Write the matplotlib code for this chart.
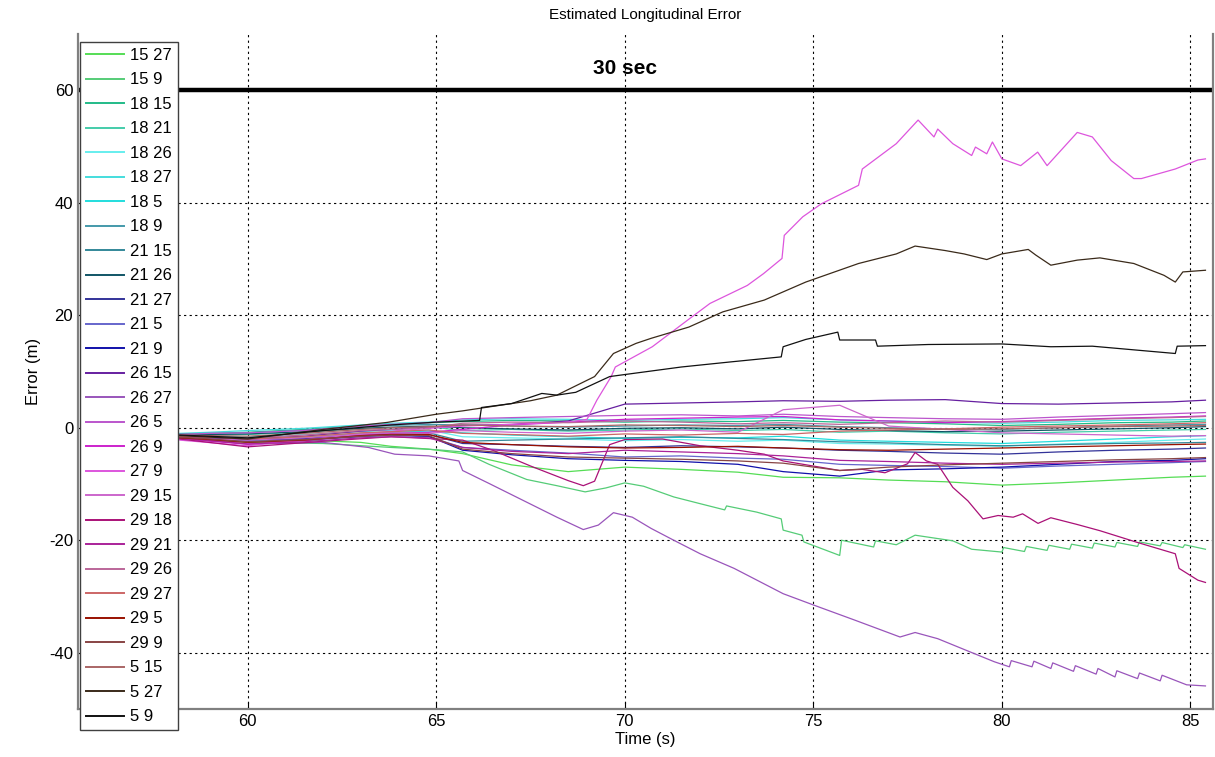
import matplotlib
matplotlib.use("Agg")
import matplotlib.pyplot as plt

plt.rcParams['font.family'] = ['Liberation Sans', 'DejaVu Sans']
plt.rcParams['axes.unicode_minus'] = False

# legend labels (draw order) and line colours
labels = ['15 27', '15 9', '18 15', '18 21', '18 26', '18 27', '18 5', '18 9',
          '21 15', '21 26', '21 27', '21 5', '21 9', '26 15', '26 27', '26 5',
          '26 9', '27 9', '29 15', '29 18', '29 21', '29 26', '29 27', '29 5',
          '29 9', '5 15', '5 27', '5 9']
colors = ['#55dd55', '#55cc77', '#22bb88', '#44ccaa', '#66eeee', '#44dddd', '#22dddd', '#4499aa',
          '#338899', '#115566', '#333399', '#6666cc', '#1111aa', '#661fa0', '#9955bb', '#bb55cc',
          '#cc22cc', '#dd55dd', '#cc66cc', '#aa1177', '#aa2299', '#bb6699', '#cc6666', '#991100',
          '#884444', '#aa6666', '#3a2a1a', '#111111']

# shared time knots (s) for the lines inside the central bundle
t_band = [58.2, 59.0, 60.0, 61.5, 63.0, 63.8, 64.8, 65.7, 67.0, 68.5, 70.0,
          71.5, 73.0, 74.2, 75.7, 77.0, 78.5, 80.0, 81.5, 83.0, 84.5, 85.4]

e_15_27 = [-1.6, -1.8, -2.0, -2.2, -2.6, -3.3, -3.8, -4.6, -6.6, -7.8, -7.0,
           -7.4, -7.9, -8.8, -8.9, -9.3, -9.6, -10.2, -9.8, -9.3, -8.8, -8.6]
e_18_15 = [-1.2, -1.0, -0.8, -0.3, 0.4, 0.6, 0.9, 1.1, 1.3, 1.2, 1.0,
           1.2, 1.1, 1.3, 1.0, 0.9, 0.7, 0.4, 0.6, 0.9, 1.0, 1.2]
e_18_21 = [-1.5, -1.3, -1.2, -0.8, -0.2, 0.0, 0.2, -0.5, -0.3, -0.6, -0.4,
           -0.2, -0.5, -0.3, -0.8, -0.6, -0.9, -1.1, -0.8, -0.6, -0.4, -0.3]
e_18_26 = [-1.4, -1.5, -1.6, -1.2, -0.7, -0.5, -0.4, -1.6, -1.8, -2.0, -2.3,
           -2.1, -2.4, -2.2, -2.8, -2.9, -3.1, -3.3, -2.9, -2.6, -2.2, -2.0]
e_18_27 = [-1.0, -0.8, -0.5, -0.1, 0.5, 0.8, 1.0, 1.4, 1.6, 1.5, 1.3,
           1.5, 1.6, 1.8, 1.4, 1.2, 1.0, 0.8, 1.0, 1.3, 1.4, 1.5]
e_18_5 = [-1.6, -1.7, -1.9, -1.6, -1.0, -0.8, -0.6, -0.9, -1.3, -1.6, -1.9,
          -1.7, -1.8, -1.5, -2.2, -2.4, -2.6, -2.8, -2.4, -2.0, -1.6, -1.4]
e_18_9 = [-1.1, -1.0, -0.9, -0.4, 0.2, 0.4, 0.6, 0.5, 0.3, 0.1, 0.3,
          0.5, 0.4, 0.6, 0.2, 0.0, -0.2, -0.3, 0.0, 0.3, 0.5, 0.6]
e_21_15 = [-1.8, -2.0, -2.3, -1.9, -1.2, -1.0, -0.9, -2.4, -2.2, -2.0, -1.8,
           -1.6, -1.9, -2.1, -2.5, -2.7, -3.0, -3.2, -3.0, -2.8, -2.7, -2.6]
e_21_26 = [-1.3, -1.2, -1.1, -0.7, -0.1, 0.1, 0.3, 0.0, -0.2, -0.4, -0.1,
           0.0, -0.2, 0.1, -0.3, -0.5, -0.7, -0.6, -0.4, -0.2, 0.0, 0.2]
e_21_27 = [-1.9, -2.1, -2.5, -2.2, -1.6, -1.3, -1.2, -2.8, -3.0, -3.3, -3.5,
           -3.2, -3.4, -3.6, -4.0, -4.2, -4.5, -4.7, -4.3, -4.0, -3.8, -3.6]
e_21_5 = [-1.7, -1.9, -2.2, -2.0, -1.5, -1.4, -1.6, -3.5, -4.0, -4.5, -5.2,
          -5.0, -5.4, -5.6, -6.5, -6.7, -6.9, -7.2, -6.8, -6.5, -6.2, -6.0]
e_21_9 = [-1.6, -1.8, -2.1, -1.9, -1.4, -1.2, -1.5, -4.0, -4.8, -5.5, -5.8,
          -6.0, -6.5, -7.8, -8.6, -7.5, -7.3, -7.0, -6.5, -6.0, -5.8, -5.5]
e_26_15 = [-1.5, -1.7, -2.0, -1.5, -0.6, -0.3, 0.1, 0.4, 0.6, 1.2, 4.2,
           4.4, 4.6, 4.8, 4.7, 4.9, 5.0, 4.3, 4.2, 4.4, 4.6, 4.9]
e_26_5 = [-1.2, -1.0, -0.9, -0.5, 0.3, 0.6, 0.9, 1.6, 1.8, 2.0, 2.2,
          2.3, 2.1, 2.4, 2.0, 1.8, 1.6, 1.5, 1.9, 2.2, 2.5, 2.7]
e_26_9 = [-2.0, -2.4, -2.9, -2.3, -1.3, -1.0, -0.8, -0.3, 0.5, 1.0, 1.5,
          1.7, 1.9, 2.0, 1.4, 1.2, 0.9, 1.1, 1.4, 1.7, 1.9, 2.1]
e_29_15 = [-1.8, -2.0, -2.2, -1.8, -1.1, -0.9, -1.0, -0.5, -0.8, -1.0, -0.6,
           -0.4, -0.8, 3.2, 4.0, 0.3, -0.3, -0.9, -1.1, -1.3, -1.5, -1.4]
e_29_21 = [-1.9, -2.3, -2.9, -2.5, -1.8, -1.6, -1.8, -3.5, -4.2, -4.6, -4.0,
           -4.3, -4.6, -5.0, -5.8, -6.0, -6.3, -6.5, -6.3, -6.1, -6.0, -5.9]
e_29_26 = [-1.5, -1.6, -1.8, -1.3, -0.5, -0.3, 0.0, 0.8, 1.0, 0.9, 1.2,
           1.0, 0.7, 0.9, 0.6, 0.9, 1.2, 1.0, 1.3, 1.6, 1.8, 2.0]
e_29_27 = [-1.6, -1.7, -2.0, -1.6, -0.9, -0.7, -0.4, -1.0, -1.2, -1.5, -1.1,
           -1.3, -1.0, -1.2, -0.6, -0.4, -0.2, 0.1, 0.3, 0.5, 0.7, 0.9]
e_29_5 = [-1.8, -2.1, -2.6, -2.2, -1.4, -1.2, -1.2, -2.6, -3.0, -3.4, -3.6,
          -3.5, -3.3, -3.6, -3.9, -4.0, -3.8, -3.6, -3.4, -3.2, -3.0, -2.9]
e_29_9 = [-1.7, -2.0, -2.5, -2.1, -1.5, -1.3, -1.4, -3.8, -4.6, -5.2, -5.4,
          -5.6, -5.9, -6.3, -7.6, -7.0, -6.6, -6.3, -6.0, -5.7, -5.5, -5.3]
e_5_15 = [-1.3, -1.4, -1.5, -1.0, -0.3, 0.0, 0.2, 0.5, 0.3, 0.2, 0.5,
          0.4, 0.2, 0.4, 0.1, -0.1, -0.3, -0.2, 0.0, 0.2, 0.3, 0.4]

# lines that leave the bundle, each with its own time knots
t_15_9 = [58.2, 60.0, 62.0, 63.8, 65.0, 65.7, 66.4, 67.4, 68.2, 68.95, 69.5, 70.0,
          70.5, 71.3, 72.0, 72.65, 72.7, 73.5, 74.15, 74.2, 74.7, 74.75, 75.7, 75.75,
          76.6, 76.65, 77.2, 77.7, 78.7, 79.2, 80.0, 80.05, 80.6, 80.65, 81.2, 81.25,
          81.8, 81.85, 82.4, 82.45, 83.0, 83.05, 83.6, 83.65, 84.2, 84.25, 84.8, 84.85, 85.4]
e_15_9 = [-1.9, -2.6, -2.8, -3.5, -3.9, -4.3, -6.5, -9.2, -10.3, -11.4, -10.7, -9.8,
          -10.4, -12.3, -13.5, -14.6, -13.9, -15.0, -16.2, -18.2, -19.1, -20.3, -22.7, -20.0,
          -21.2, -20.1, -20.8, -19.1, -20.1, -21.6, -22.1, -21.3, -22.0, -21.1, -21.8, -20.9,
          -21.6, -20.7, -21.4, -20.5, -21.2, -20.4, -21.1, -20.3, -21.0, -20.4, -21.3, -20.8, -21.6]

t_26_27 = [58.2, 60.0, 62.0, 63.2, 63.9, 64.8, 65.6, 65.7, 66.4, 67.3, 68.2, 68.9,
           69.3, 69.7, 70.2, 70.7, 71.3, 72.0, 72.9, 74.2, 75.0, 76.1, 77.3, 77.7,
           78.3, 79.25, 79.8, 80.2, 80.25, 80.8, 80.85, 81.3, 81.35, 81.9, 81.95, 82.5,
           82.55, 83.0, 83.05, 83.6, 83.65, 84.2, 84.25, 84.9, 85.4]
e_26_27 = [-1.7, -2.9, -2.6, -3.5, -4.7, -5.0, -5.9, -7.6, -9.9, -12.9, -15.9, -18.1,
           -17.3, -15.1, -15.9, -17.9, -20.0, -22.4, -25.0, -29.5, -31.5, -34.2, -37.2, -36.4,
           -37.5, -40.1, -41.6, -42.5, -41.4, -42.5, -41.5, -42.8, -41.8, -43.3, -42.3, -43.8,
           -42.8, -44.3, -43.2, -44.6, -43.6, -45.0, -44.0, -45.7, -45.9]

t_27_9 = [58.2, 60.0, 62.0, 64.0, 65.7, 67.0, 68.5, 69.0, 69.26, 69.64, 69.75, 70.73,
          71.72, 72.26, 73.25, 73.68, 74.17, 74.23, 74.72, 75.21, 76.2, 76.3, 77.2, 77.78,
          78.2, 78.3, 78.7, 79.2, 79.3, 79.6, 79.75, 80.0, 80.5, 80.95, 81.2, 82.0,
          82.4, 82.9, 83.5, 83.7, 84.6, 85.2, 85.4]
e_27_9 = [-2.2, -3.2, -1.8, -0.5, 0.3, 0.6, 1.0, 1.5, 4.9, 9.1, 10.8, 14.4,
          19.4, 22.1, 25.3, 27.4, 30.1, 34.2, 37.5, 39.8, 43.1, 46.0, 50.5, 54.7,
          51.7, 53.1, 50.5, 48.4, 49.9, 48.7, 50.8, 47.8, 46.6, 49.0, 46.6, 52.5,
          51.7, 47.5, 44.3, 44.3, 46.0, 47.6, 47.8]

t_29_18 = [58.2, 60.0, 62.0, 63.8, 65.7, 66.5, 67.5, 68.5, 68.9, 69.2, 69.6, 70.0,
           71.0, 72.0, 73.0, 73.7, 74.2, 75.7, 76.3, 76.9, 77.5, 77.7, 78.0, 78.3,
           78.7, 79.1, 79.5, 79.9, 80.3, 80.55, 80.96, 81.3, 82.0, 82.6, 83.6, 84.6,
           84.7, 85.2, 85.4]
e_29_18 = [-2.0, -3.4, -2.4, -1.6, -2.2, -4.0, -6.8, -9.4, -10.3, -9.5, -3.0, -2.1,
           -2.0, -3.2, -4.0, -4.7, -5.9, -7.6, -7.4, -8.0, -6.4, -4.4, -5.9, -6.5,
           -10.6, -13.0, -16.2, -15.6, -15.9, -15.3, -17.0, -16.0, -17.2, -18.3, -20.4, -22.4,
           -25.0, -27.1, -27.5]

t_5_27 = [58.2, 60.0, 62.0, 63.7, 65.0, 65.7, 66.3, 67.5, 68.2, 69.2, 69.7, 70.3,
          70.7, 71.7, 72.6, 73.7, 74.8, 76.2, 77.2, 77.7, 78.5, 79.0, 79.6, 80.0,
          80.7, 80.9, 81.3, 82.0, 82.6, 83.5, 84.3, 84.6, 84.8, 85.4]
e_5_27 = [-1.4, -2.0, -0.3, 0.95, 2.4, 3.0, 3.6, 4.8, 5.8, 9.1, 13.2, 15.0,
          15.9, 17.9, 20.6, 22.7, 25.9, 29.2, 30.9, 32.3, 31.5, 30.9, 29.9, 30.9,
          31.7, 30.7, 28.9, 29.8, 30.2, 29.2, 27.1, 25.9, 27.7, 28.0]

t_5_9 = [58.2, 60.0, 62.0, 63.8, 65.0, 66.15, 66.2, 67.0, 67.8, 68.2, 68.7, 69.6,
         71.5, 72.8, 74.15, 74.2, 74.8, 75.65, 75.7, 76.65, 76.7, 78.05, 80.0, 81.3,
         82.4, 84.6, 84.65, 85.4]
e_5_9 = [-1.3, -1.8, -0.5, 0.5, 1.0, 1.3, 3.6, 4.3, 6.1, 5.8, 6.3, 9.1,
         10.8, 11.7, 12.6, 14.4, 15.7, 17.0, 15.6, 15.6, 14.5, 14.8, 14.9, 14.4,
         14.5, 13.2, 14.5, 14.6]

series = [
    (t_band, e_15_27), (t_15_9, e_15_9), (t_band, e_18_15), (t_band, e_18_21),
    (t_band, e_18_26), (t_band, e_18_27), (t_band, e_18_5), (t_band, e_18_9),
    (t_band, e_21_15), (t_band, e_21_26), (t_band, e_21_27), (t_band, e_21_5),
    (t_band, e_21_9), (t_band, e_26_15), (t_26_27, e_26_27), (t_band, e_26_5),
    (t_band, e_26_9), (t_27_9, e_27_9), (t_band, e_29_15), (t_29_18, e_29_18),
    (t_band, e_29_21), (t_band, e_29_26), (t_band, e_29_27), (t_band, e_29_5),
    (t_band, e_29_9), (t_band, e_5_15), (t_5_27, e_5_27), (t_5_9, e_5_9),
]

fig = plt.figure(figsize=(12.15, 7.57), dpi=100)
ax = fig.add_axes([78 / 1215, 1 - 709 / 757, (1213 - 78) / 1215, (709 - 34) / 757])

for (t, e), lab, c in zip(series, labels, colors):
    ax.plot(t, e, color=c, lw=0.9, label=lab)

# 30 second limit line
ax.axhline(60, color='black', lw=3.2)
ax.text(70, 63.8, '30 sec', ha='center', va='center', fontsize=15, fontweight='bold')

ax.set_xlim(55.5, 85.6)
ax.set_ylim(-50, 70)
ax.set_xticks([60, 65, 70, 75, 80, 85])
ax.set_yticks([-40, -20, 0, 20, 40, 60])
ax.grid(True, color='black', ls=(0, (2, 3)), lw=0.8)
ax.tick_params(direction='in', length=5, labelsize=12, colors='black')
for side in ['left', 'right', 'bottom']:
    ax.spines[side].set_color('#808080')
    ax.spines[side].set_linewidth(1.6)
ax.spines['top'].set_visible(False)

ax.set_title('Estimated Longitudinal Error', fontsize=11, pad=11)
ax.set_xlabel('Time (s)', fontsize=12, labelpad=2)
ax.set_ylabel('Error (m)', fontsize=12, labelpad=6)

leg = ax.legend(loc='upper left', bbox_to_anchor=(80 / 1215, 1 - 42 / 757),
                bbox_transform=fig.transFigure, fontsize=12, labelspacing=0.57,
                handlelength=2.3, handletextpad=0.35, borderpad=0.35,
                borderaxespad=0, fancybox=False, framealpha=1)
leg.get_frame().set_edgecolor('#404040')
leg.get_frame().set_linewidth(1.0)
for ln in leg.get_lines():
    ln.set_linewidth(1.4)

fig.savefig('out.png', dpi=100)
